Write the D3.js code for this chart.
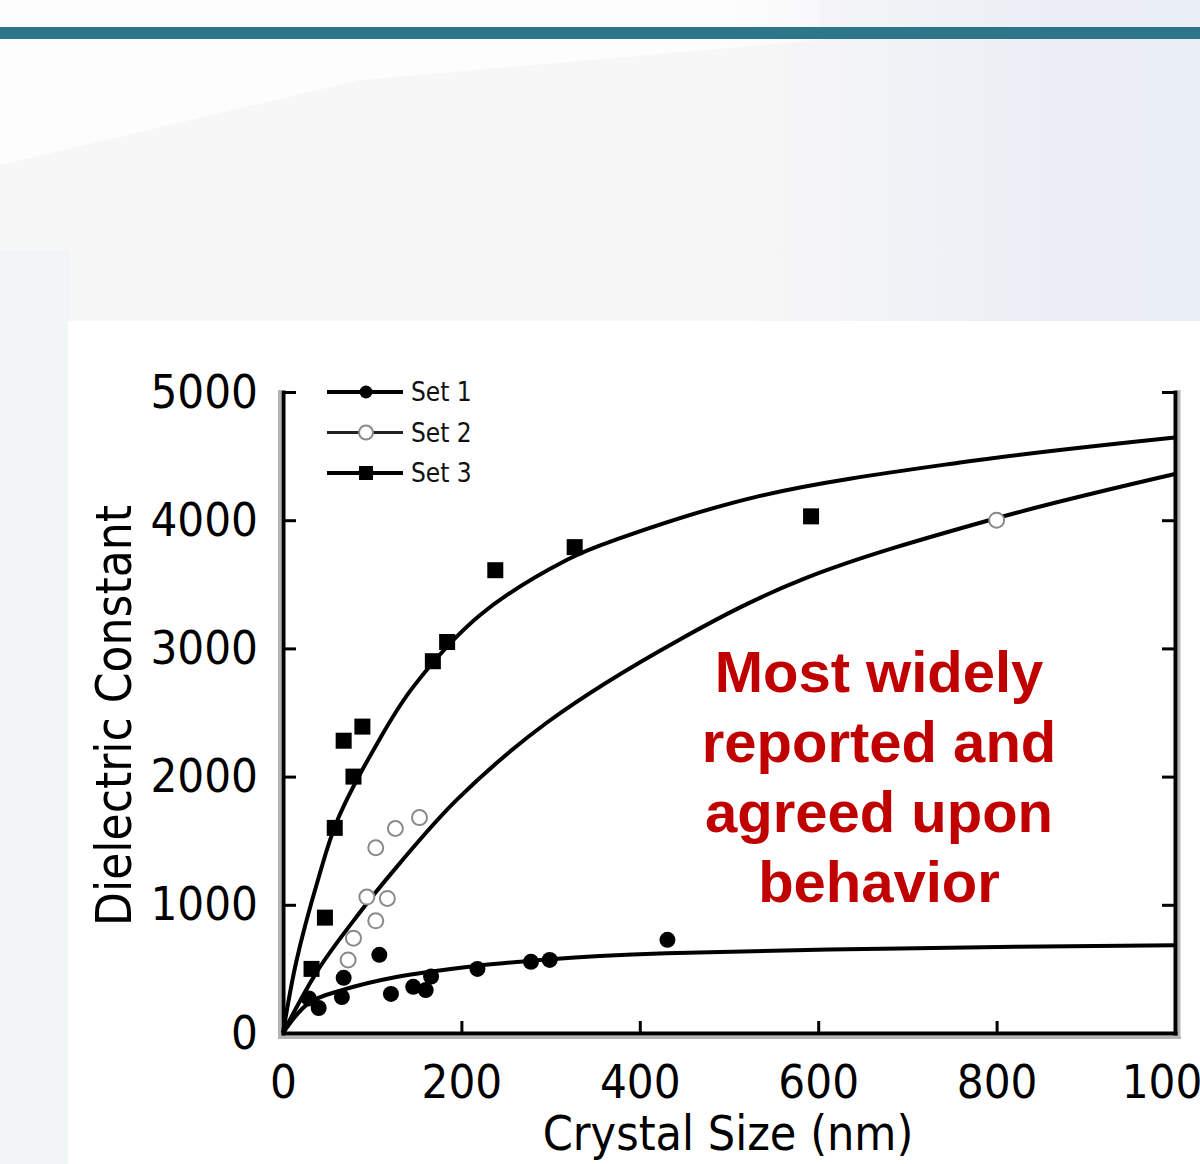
<!DOCTYPE html>
<html>
<head>
<meta charset="utf-8">
<script src="https://cdn.jsdelivr.net/npm/d3@7"></script>
<style>
  html, body { margin: 0; padding: 0; background: #ffffff; }
  svg { display: block; }
  .axis-text { font-family: 'DejaVu Sans Condensed', 'DejaVu Sans', sans-serif; font-stretch: condensed; }
</style>
</head>
<body>
<svg id="chart" width="1200" height="1164"></svg>
<script>
// ---- data ----
const xTicks = [0, 200, 400, 600, 800, 1000];
const yTicks = [0, 1000, 2000, 3000, 4000, 5000];

// measured points: [crystal size (nm), dielectric constant]
const set1Points = [[29, 270], [40, 195], [66, 280], [68, 430], [108, 610], [121, 305], [146, 360],
  [160, 335], [166, 440], [218, 500], [278, 555], [299, 570], [431, 727]];
const set2Points = [[73, 570], [79, 740], [94, 1060], [104, 875], [104, 1445], [117, 1050],
  [126, 1595], [153, 1680], [800, 4000]];
const set3Points = [[32, 500], [47, 900], [58, 1600], [68, 2280], [79, 2000], [89, 2390],
  [168, 2900], [184, 3050], [238, 3610], [327, 3790], [592, 4030]];

// fitted trend curves
const set1Fit = [[0, 0], [29, 234], [67, 336], [127, 437], [216, 523], [300, 575], [355, 600],
  [430, 622], [692, 660], [1000, 685]];
const set2Fit = [[0, 0], [40, 500], [85, 930], [116, 1200], [195, 1820], [296, 2422], [445, 3070],
  [583, 3540], [796, 4008], [1000, 4360]];
const set3Fit = [[0, 0], [15, 560], [39, 1190], [61, 1660], [109, 2300], [146, 2700], [221, 3260],
  [318, 3690], [378, 3860], [535, 4190], [759, 4450], [1000, 4645]];

const legendLabels = ["Set 1", "Set 2", "Set 3"];
const annotationLines = ["Most widely", "reported and", "agreed upon", "behavior"];
const xTitle = "Crystal Size (nm)";
const yTitle = "Dielectric Constant";

// ---- layout ----
const W = 1200, H = 1164;
const svg = d3.select("#chart");
const defs = svg.append("defs");

// page background
const blueTint = defs.append("linearGradient").attr("id", "blueTint")
  .attr("x1", "0").attr("y1", "0").attr("x2", "1").attr("y2", "0");
blueTint.append("stop").attr("offset", "0.6").attr("stop-color", "#eef0f6").attr("stop-opacity", 0);
blueTint.append("stop").attr("offset", "0.88").attr("stop-color", "#eceef6").attr("stop-opacity", 1);
blueTint.append("stop").attr("offset", "1").attr("stop-color", "#eaeef5").attr("stop-opacity", 1);

svg.append("rect").attr("width", W).attr("height", H).attr("fill", "#f7f7f7");
svg.append("path").attr("d", "M0,0 H820 V40 L360,80 L0,165 Z").attr("fill", "#fdfdfd");
svg.append("rect").attr("width", W).attr("height", H).attr("fill", "url(#blueTint)");
svg.append("rect").attr("x", 0).attr("y", 250).attr("width", 70).attr("height", H - 250)
  .attr("fill", "#f1f5f6");
svg.append("rect").attr("x", 0).attr("y", 27).attr("width", W).attr("height", 12)
  .attr("fill", "#2e7589");

// white chart panel
svg.append("rect").attr("x", 68).attr("y", 321).attr("width", W - 68).attr("height", H - 321)
  .attr("fill", "#ffffff");

// ---- scales ----
const x = d3.scaleLinear().domain([0, 1000]).range([283, 1175]);
const y = d3.scaleLinear().domain([0, 5000]).range([1033, 392]);

// ---- frame shading ----
const shade = svg.append("g").attr("stroke", "#b4b4b4").attr("stroke-width", 3);
shade.append("line").attr("x1", x(0) - 3.5).attr("x2", x(0) - 3.5).attr("y1", y(5000) - 2).attr("y2", y(0) + 6);
shade.append("line").attr("x1", x(0) - 3).attr("x2", x(1000) + 6).attr("y1", y(0) + 4.5).attr("y2", y(0) + 4.5);
shade.append("line").attr("x1", x(1000) + 4).attr("x2", x(1000) + 4).attr("y1", y(5000) - 2).attr("y2", y(0) + 4);

// ---- axes ----
const tickFont = 47;
function styleAxis(g) {
  g.select(".domain").attr("stroke", "#000").attr("stroke-width", 4).attr("stroke-linecap", "square");
  g.selectAll(".tick line").attr("stroke", "#000").attr("stroke-width", 3);
  g.selectAll(".tick text").attr("class", "axis-text").attr("fill", "#000")
    .attr("font-size", tickFont);
}

svg.append("g").attr("transform", `translate(0,${y(0)})`)
  .call(d3.axisBottom(x).tickValues(xTicks).tickFormat(d3.format("d"))
    .tickSize(-12).tickSizeOuter(0).tickPadding(32))
  .call(styleAxis)
  .attr("font-family", null).attr("font-size", null);

svg.append("g").attr("transform", `translate(${x(0)},0)`)
  .call(d3.axisLeft(y).tickValues(yTicks).tickFormat(d3.format("d"))
    .tickSize(-13).tickSizeOuter(0).tickPadding(25))
  .call(styleAxis)
  .attr("font-family", null).attr("font-size", null);

svg.append("g").attr("transform", `translate(${x(1000)},0)`)
  .call(d3.axisRight(y).tickValues(yTicks).tickFormat("")
    .tickSize(-13).tickSizeOuter(0))
  .call(styleAxis);

// axis titles
svg.append("text").attr("class", "axis-text")
  .attr("x", (x(0) + x(1000)) / 2 - 1).attr("y", 1150)
  .attr("text-anchor", "middle").attr("font-size", 48).attr("fill", "#000")
  .text(xTitle);

svg.append("text").attr("class", "axis-text")
  .attr("transform", `translate(131,${(y(0) + y(5000)) / 2 + 3}) rotate(-90)`)
  .attr("text-anchor", "middle").attr("font-size", 49).attr("fill", "#000")
  .text(yTitle);

// ---- fitted curves ----
const line = d3.line().x(d => x(d[0])).y(d => y(d[1])).curve(d3.curveCatmullRom.alpha(0.5));
const curves = svg.append("g").attr("fill", "none").attr("stroke", "#000")
  .attr("stroke-width", 4).attr("stroke-linejoin", "round");
[set1Fit, set2Fit, set3Fit].forEach(series => {
  curves.append("path").attr("d", line(series));
});

// ---- data markers ----
svg.append("g").selectAll("circle").data(set1Points).join("circle")
  .attr("cx", d => x(d[0])).attr("cy", d => y(d[1])).attr("r", 8)
  .attr("fill", "#000");

svg.append("g").selectAll("circle").data(set2Points).join("circle")
  .attr("cx", d => x(d[0])).attr("cy", d => y(d[1])).attr("r", 7.5)
  .attr("fill", "#fff").attr("stroke", "#8a8a8a").attr("stroke-width", 2);

const sq = 16;
svg.append("g").selectAll("rect").data(set3Points).join("rect")
  .attr("x", d => x(d[0]) - sq / 2).attr("y", d => y(d[1]) - sq / 2)
  .attr("width", sq).attr("height", sq).attr("fill", "#000");

// ---- legend ----
const legend = svg.append("g").attr("transform", "translate(327,392)");
const rowGap = 40.5;
legendLabels.forEach((label, i) => {
  const row = legend.append("g").attr("transform", `translate(0,${i * rowGap})`);
  row.append("line").attr("x1", 0).attr("x2", 76).attr("y1", 0).attr("y2", 0)
    .attr("stroke", i === 1 ? "#222" : "#000").attr("stroke-width", i === 1 ? 3 : 4);
  if (i === 0) {
    row.append("circle").attr("cx", 39).attr("cy", 0).attr("r", 6.5).attr("fill", "#000");
  } else if (i === 1) {
    row.append("circle").attr("cx", 39).attr("cy", 0).attr("r", 7)
      .attr("fill", "#fff").attr("stroke", "#8a8a8a").attr("stroke-width", 2);
  } else {
    row.append("rect").attr("x", 32).attr("y", -7).attr("width", 14).attr("height", 14).attr("fill", "#000");
  }
  row.append("text").attr("class", "axis-text")
    .attr("x", 84).attr("y", 0).attr("dy", "0.36em")
    .attr("font-size", 26).attr("fill", "#111")
    .text(label);
});

// ---- annotation ----
svg.append("g").selectAll("text").data(annotationLines).join("text")
  .attr("x", 879).attr("y", (d, i) => 692 + i * 70)
  .attr("text-anchor", "middle")
  .attr("font-family", "'Liberation Sans', Arial, sans-serif")
  .attr("font-weight", "bold").attr("font-size", 58).attr("fill", "#c00000")
  .text(d => d);
</script>
</body>
</html>
